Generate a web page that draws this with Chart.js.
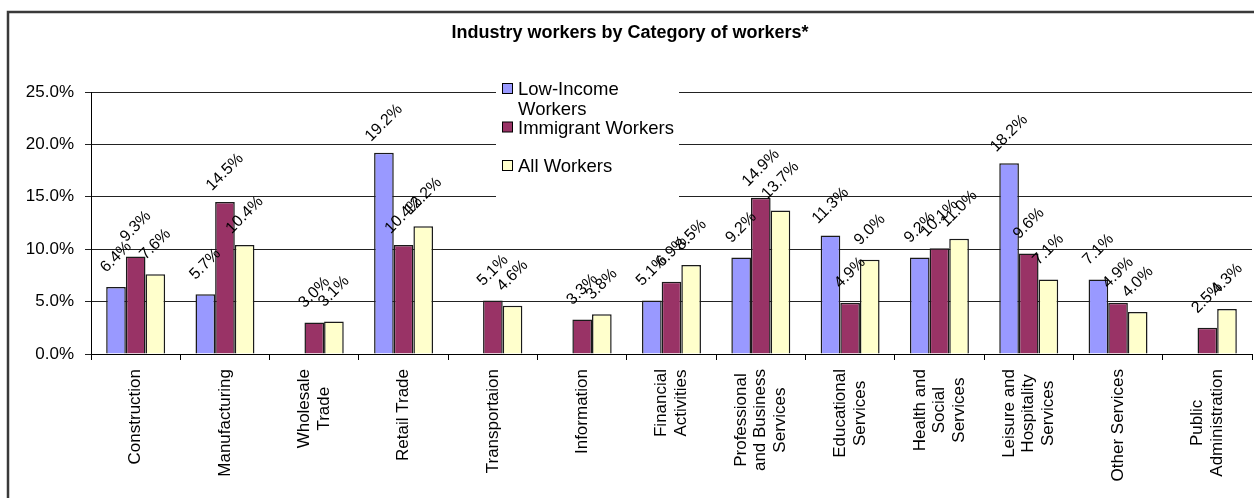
<!DOCTYPE html>
<html>
<head>
<meta charset="utf-8">
<title>Industry workers by Category of workers</title>
<script src="https://cdn.jsdelivr.net/npm/chart.js@4.4.1/dist/chart.umd.min.js"></script>
<style>
  html, body { margin: 0; padding: 0; background: #fff; }
  canvas { display: block; }
</style>
</head>
<body>
<canvas id="chart" width="1254" height="498"></canvas>
<script>
// industries, one entry per category (lines as they wrap under the axis)
const industries = [
  ['Construction'], ['Manufacturing'], ['Wholesale', 'Trade'], ['Retail Trade'],
  ['Transportaion'], ['Information'], ['Financial', 'Activities'],
  ['Professional', 'and Business', 'Services'], ['Educational', 'Services'],
  ['Health and', 'Social', 'Services'], ['Leisure and', 'Hospitality', 'Services'],
  ['Other Services'], ['Public', 'Administration']
];

const seriesNames = ['Low-Income Workers', 'Immigrant Workers', 'All Workers'];

// share of workers in each industry, percent
const lowIncome = [6.4, 5.7, null, 19.2, null, null, 5.1, 9.2, 11.3, 9.2, 18.2, 7.1, null];
const immigrant = [9.3, 14.5, 3.0, 10.4, 5.1, 3.3, 6.9, 14.9, 4.9, 10.1, 9.6, 4.9, 2.5];
const allWorkers = [7.6, 10.4, 3.1, 12.2, 4.6, 3.8, 8.5, 13.7, 9.0, 11.0, 7.1, 4.0, 4.3];

const yTicks = [0, 5, 10, 15, 20, 25];

const colors = ['#9999FF', '#993366', '#FFFFCC'];
const FONT = '"Liberation Sans", Arial, sans-serif';

const frame = {
  id: 'frame',
  beforeDraw(chart) {
    const ctx = chart.ctx;
    ctx.save();
    ctx.fillStyle = '#fff';
    ctx.fillRect(0, 0, chart.width, chart.height);
    ctx.strokeStyle = '#3a3a3a';
    ctx.lineWidth = 2.5;
    ctx.beginPath();
    ctx.moveTo(8, chart.height);
    ctx.lineTo(8, 12);
    ctx.lineTo(chart.width, 12);
    ctx.stroke();

    ctx.fillStyle = '#000';
    ctx.font = 'bold 18px ' + FONT;
    ctx.textAlign = 'center';
    ctx.textBaseline = 'alphabetic';
    ctx.fillText('Industry workers by Category of workers*', 630, 38);
    ctx.restore();
  }
};

// category names, rotated to read upward, lines centred on each other
const categoryLabels = {
  id: 'categoryLabels',
  afterDraw(chart) {
    const ctx = chart.ctx;
    const x = chart.scales.x;
    const top = x.top + 15;
    const lh = 19.5;
    ctx.save();
    ctx.font = '17px ' + FONT;
    ctx.fillStyle = '#000';
    ctx.textAlign = 'center';
    ctx.textBaseline = 'middle';
    industries.forEach((lines, i) => {
      const px = x.getPixelForValue(i);
      const maxW = Math.max(...lines.map(l => ctx.measureText(l).width));
      lines.forEach((line, j) => {
        const off = (j - (lines.length - 1) / 2) * lh;
        ctx.save();
        ctx.translate(px + off, top);
        ctx.rotate(-Math.PI / 2);
        ctx.fillText(line, -maxW / 2, 0);
        ctx.restore();
      });
    });
    ctx.restore();
  }
};

const legendBox = {
  id: 'legendBox',
  afterDatasetsDraw(chart) {
    const ctx = chart.ctx;
    ctx.save();
    ctx.fillStyle = '#fff';
    ctx.fillRect(496, 74, 183, 126);
    ctx.font = '18.5px ' + FONT;
    ctx.textBaseline = 'alphabetic';
    ctx.textAlign = 'left';
    chart.data.datasets.forEach((ds, i) => {
      const base = 95 + i * 38.5;
      ctx.fillStyle = ds.backgroundColor;
      ctx.fillRect(502.5, base - 11.5, 10, 10);
      ctx.strokeStyle = '#000';
      ctx.lineWidth = 1;
      ctx.strokeRect(502.5, base - 11.5, 10, 10);
      // wrap the name to the legend width
      const words = ds.label.split(' ');
      const lines = [];
      let cur = '';
      words.forEach(w => {
        const t = cur ? cur + ' ' + w : w;
        if (ctx.measureText(t).width > 160 && cur) { lines.push(cur); cur = w; } else cur = t;
      });
      lines.push(cur);
      ctx.fillStyle = '#000';
      lines.forEach((l, j) => ctx.fillText(l, 518, base + j * 20));
    });
    ctx.restore();
  }
};

const valueLabels = {
  id: 'valueLabels',
  afterDraw(chart) {
    const ctx = chart.ctx;
    ctx.save();
    ctx.font = '16px ' + FONT;
    ctx.fillStyle = '#000';
    ctx.textAlign = 'center';
    ctx.textBaseline = 'middle';
    chart.data.datasets.forEach((ds, di) => {
      chart.getDatasetMeta(di).data.forEach((bar, i) => {
        const v = ds.data[i];
        if (v === null) return;
        ctx.save();
        ctx.translate(bar.x, bar.y - 30);
        ctx.rotate(-Math.PI / 4);
        ctx.fillText(v.toFixed(1) + '%', 0, 0);
        ctx.restore();
      });
    });
    ctx.restore();
  }
};

function dataset(label, data, color) {
  return {
    label,
    data,
    backgroundColor: color,
    borderColor: '#1a1a1a',
    borderWidth: 1.5,
    categoryPercentage: 0.66,
    barPercentage: 1.0
  };
}

new Chart(document.getElementById('chart'), {
  type: 'bar',
  data: {
    labels: industries,
    datasets: [
      dataset(seriesNames[0], lowIncome, colors[0]),
      dataset(seriesNames[1], immigrant, colors[1]),
      dataset(seriesNames[2], allWorkers, colors[2])
    ]
  },
  options: {
    responsive: false,
    animation: false,
    devicePixelRatio: 1,
    layout: { padding: { top: 92, right: 2, left: 0, bottom: 0 } },
    plugins: {
      legend: { display: false },
      title: { display: false },
      tooltip: { enabled: false }
    },
    scales: {
      x: {
        offset: true,
        grid: { offset: true, drawOnChartArea: false, tickLength: 6, color: '#000' },
        border: { color: '#000', width: 1 },
        ticks: { display: false },
        afterFit: s => { s.height = 144; }
      },
      y: {
        min: yTicks[0],
        max: yTicks[yTicks.length - 1],
        afterBuildTicks: s => { s.ticks = yTicks.map(v => ({ value: v })); },
        grid: { color: '#222', tickLength: 6 },
        border: { color: '#000', width: 1 },
        ticks: {
          padding: 11,
          color: '#000',
          font: { family: FONT, size: 17 },
          callback: v => v.toFixed(1) + '%'
        },
        afterFit: s => { s.width = 91; }
      }
    }
  },
  plugins: [frame, legendBox, valueLabels, categoryLabels]
});
</script>
</body>
</html>
